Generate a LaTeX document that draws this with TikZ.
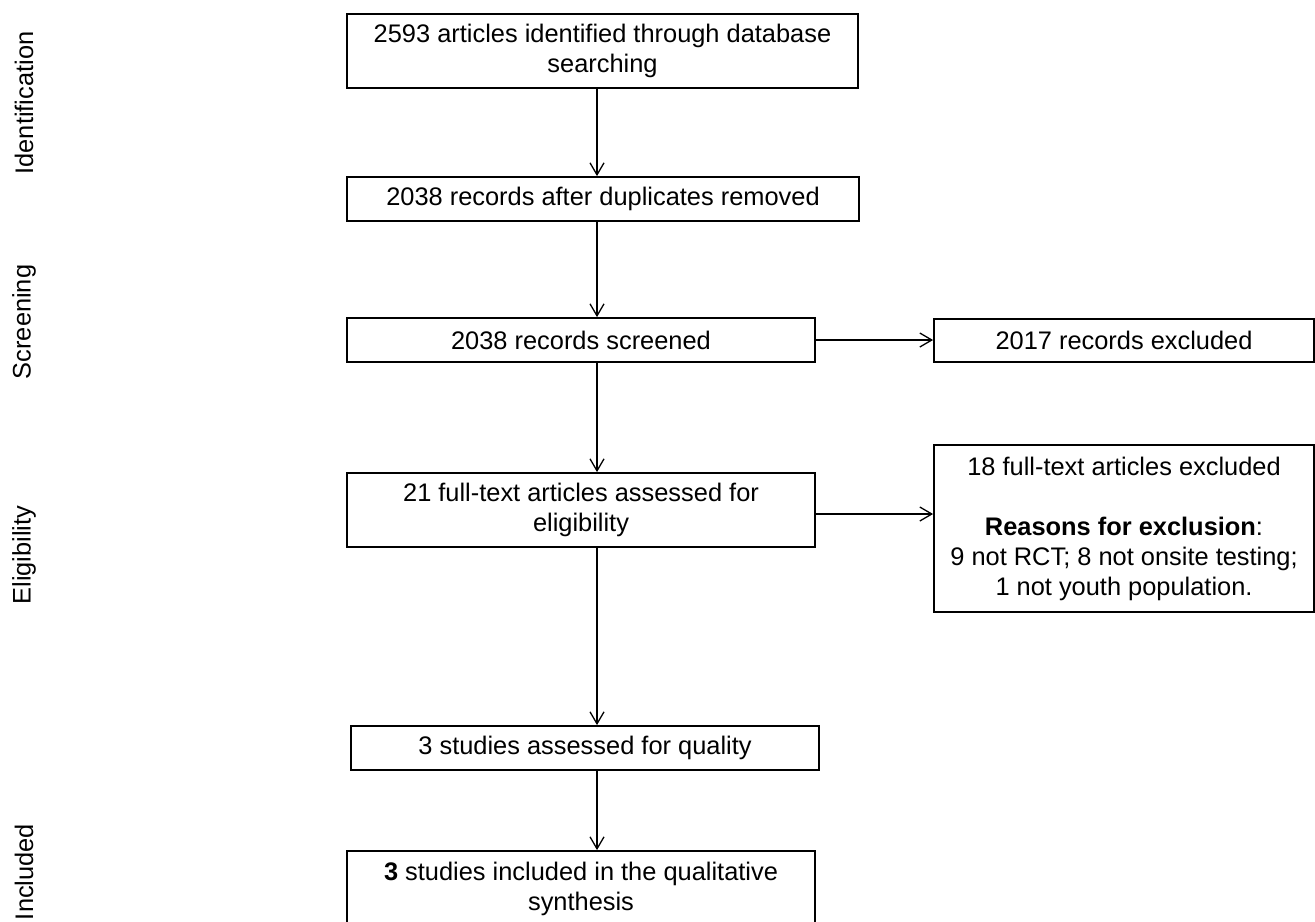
\documentclass[tikz,border=0pt]{standalone}
\usepackage{fontspec}
\setmainfont{Liberation Sans}
\usetikzlibrary{arrows.meta}

\begin{document}
\begin{tikzpicture}[
	x=0.5pt, y=-0.5pt,
	font=\fontsize{12.7}{15}\selectfont,
	stage/.style={ draw, line width=0.9pt, inner sep=0pt, align=center, anchor=center },
	phase/.style={ rotate=90, inner sep=0pt, anchor=center },
	flow/.style={ line width=0.65pt, -{Straight Barb[length=6pt,width=7pt,line width=0.65pt]} }
]

\useasboundingbox (0,0) rectangle (1315,921);
\clip (0,0) rectangle (1315,921);

\node at (24,103) (idf) [phase] {Identification};
\node at (24,322) (scr) [phase] {Screening};
\node at (24,555) (elg) [phase] {Eligibility};
\node at (24,872) (inc) [phase] {Included};

\node at (602.5,51) (found) [stage,minimum width=255.5pt,minimum height=37pt] {2593 articles identified through database\\searching};
\node at (603,199) (dedup) [stage,minimum width=256pt,minimum height=22pt] {2038 records after duplicates removed};
\node at (581,340) (screened) [stage,minimum width=234pt,minimum height=22pt] {2038 records screened};
\node at (1124,340.5) (dropped) [stage,minimum width=190pt,minimum height=21.5pt] {2017 records excluded};
\node at (581,510) (fulltext) [stage,minimum width=234pt,minimum height=37pt] {21 full-text articles assessed for\\eligibility};
\node at (1124,528.5) (reasons) [stage,minimum width=190pt,minimum height=83.5pt] {18 full-text articles excluded\\[15pt]\textbf{Reasons for exclusion}:\\9 not RCT; 8 not onsite testing;\\1 not youth population.};
\node at (585,748) (quality) [stage,minimum width=234pt,minimum height=22pt] {3 studies assessed for quality};
\node at (581,889) (synth) [stage,minimum width=234pt,minimum height=38pt] {\textbf{3} studies included in the qualitative\\synthesis};

\coordinate (spine) at (597,0);
\draw[flow] (found.south -| spine) -- (dedup.north -| spine);
\draw[flow] (dedup.south -| spine) -- (screened.north -| spine);
\draw[flow] (screened.south -| spine) -- (fulltext.north -| spine);
\draw[flow] (fulltext.south -| spine) -- (quality.north -| spine);
\draw[flow] (quality.south -| spine) -- (synth.north -| spine);
\draw[flow] (screened.east) -- (screened.east -| dropped.west);
\draw[flow] ([yshift=-2pt]fulltext.east) -- ([yshift=-2pt]fulltext.east -| reasons.west);

\end{tikzpicture}
\end{document}
